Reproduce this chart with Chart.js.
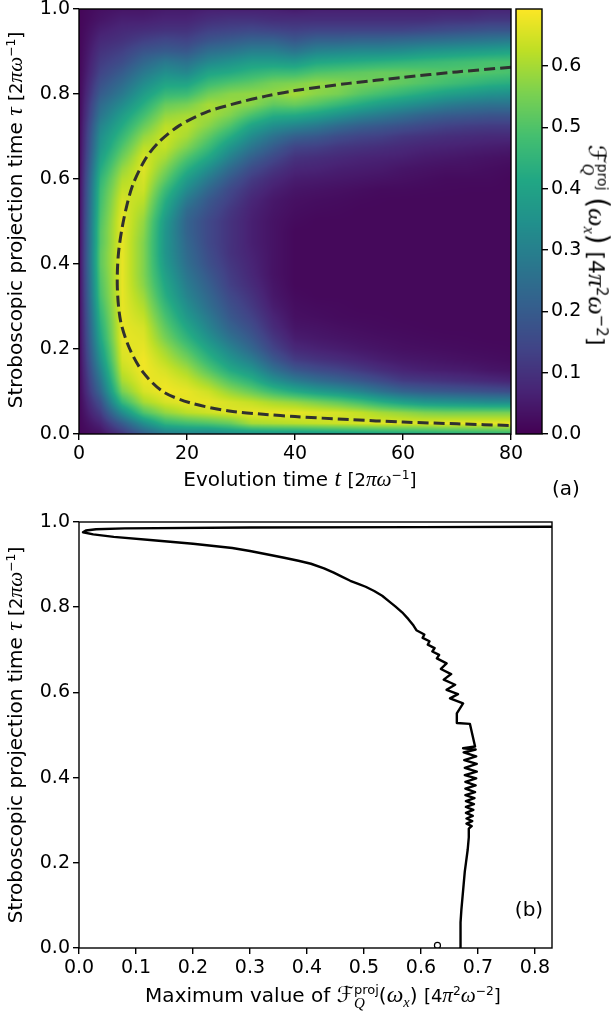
<!DOCTYPE html>
<html><head><meta charset="utf-8">
<script src="https://cdn.jsdelivr.net/npm/chart.js@4.4.1/dist/chart.umd.min.js"></script>
<style>
html,body{margin:0;padding:0;background:#fff;}
#wrap{position:relative;width:614px;height:1017px;overflow:hidden;background:#fff;}
canvas{position:absolute;}
.lbl{position:absolute;font-family:'DejaVu Sans',sans-serif;font-size:20px;color:#000;white-space:nowrap;line-height:1;}
.c{transform:translate(-50%,-50%);}
.rl{transform:translate(-50%,-50%) rotate(-90deg);}
.rr{transform:translate(-50%,-50%) rotate(90deg);}
.mi{font-family:'Liberation Serif','DejaVu Serif',serif;font-style:italic;font-size:1.18em;}
.u{font-size:18px;}
.sp{font-size:0.68em;vertical-align:0.55em;line-height:0;}
.ss{display:inline-flex;flex-direction:column;font-size:13px;line-height:0.95;vertical-align:8px;}
.ss .mi{font-size:15px;}
.sb{font-size:0.72em;vertical-align:-0.3em;line-height:0;}
.scr{font-family:'DejaVu Sans',sans-serif;font-style:italic;font-size:1.1em;}
.big{font-size:1.25em;}
.cbl{font-size:22px;}
.cbl .ss{font-size:14px;vertical-align:9px;}
.cbl .ss .mi{font-size:16px;}
</style></head><body>
<div id="wrap">
<canvas id="ca" width="614" height="500" style="left:0;top:0;width:614px;height:500px"></canvas>
<canvas id="cc" width="124" height="500" style="left:490px;top:0;width:124px;height:500px"></canvas>
<canvas id="cb" width="614" height="517" style="left:0;top:500px;width:614px;height:517px"></canvas>

<div class="lbl rl" style="left:15px;top:220px">Stroboscopic projection time <span class="mi">τ</span> <span class="u">[2<span class="mi">πω</span><span class="sp">−1</span>]</span></div>
<div class="lbl c" style="left:300px;top:479px">Evolution time <span class="mi">t</span> <span class="u">[2<span class="mi">πω</span><span class="sp">−1</span>]</span></div>
<div class="lbl c" style="left:566px;top:488px;font-size:20px">(a)</div>
<div class="lbl rr cbl" style="left:596px;top:245px"><span class="scr">ℱ</span><span class="ss"><span>proj</span><span class="mi">Q</span></span> <span class="big">(</span><span class="mi">ω</span><span class="sb mi">x</span><span class="big">)</span> [4<span class="mi">π</span><span class="sp">2</span><span class="mi">ω</span><span class="sp">−2</span>]</div>

<div class="lbl rl" style="left:15px;top:735px">Stroboscopic projection time <span class="mi">τ</span> <span class="u">[2<span class="mi">πω</span><span class="sp">−1</span>]</span></div>
<div class="lbl c" style="left:323px;top:997px">Maximum value of <span class="scr">ℱ</span><span class="ss"><span>proj</span><span class="mi">Q</span></span>(<span class="mi">ω</span><span class="sb mi">x</span>) <span class="u">[4<span class="mi">π</span><span class="sp">2</span><span class="mi">ω</span><span class="sp">−2</span>]</span></div>
<div class="lbl c" style="left:529px;top:909px;font-size:20px">(b)</div>
</div>
<script>
// ---------------- DATA ----------------
// Panel (a): evolution time columns and projection-time rows of the heat map
const timeValues = [0,4,8,12,16,20,24,28,32,36,40,44,48,52,56,60,64,68,72,76,80];
const tauValues = [0,0.025,0.05,0.075,0.1,0.125,0.15,0.175,0.2,0.225,0.25,0.275,0.3,0.325,0.35,0.375,0.4,0.425,0.45,0.475,0.5,0.525,0.55,0.575,0.6,0.625,0.65,0.675,0.7,0.725,0.75,0.775,0.8,0.825,0.85,0.875,0.9,0.925,0.95,0.975,1.0];
// F_Q^proj values, one row per time column (tau from 0 to 1)
const fisherByTime = [
/* t=0  */ [.01,.01,.01,.01,.01,.01,.01,.01,.01,.01,.01,.01,.01,.01,.01,.01,.01,.01,.01,.01,.01,.01,.01,.01,.01,.01,.01,.01,.01,.01,.01,.01,.01,.01,.01,.01,.01,.01,.01,.01,.01],
/* t=4  */ [.03,.07,.12,.17,.23,.27,.31,.35,.38,.41,.43,.45,.47,.49,.50,.51,.52,.52,.51,.51,.50,.49,.48,.47,.45,.42,.39,.36,.34,.31,.27,.24,.20,.17,.14,.12,.10,.08,.06,.04,.03],
/* t=8  */ [.10,.20,.33,.46,.55,.60,.63,.65,.66,.67,.67,.67,.67,.67,.67,.67,.67,.67,.67,.67,.67,.66,.65,.63,.61,.58,.54,.50,.46,.42,.38,.33,.28,.24,.20,.16,.13,.10,.08,.06,.04],
/* t=12 */ [.20,.34,.50,.60,.65,.67,.68,.68,.67,.66,.65,.63,.61,.59,.57,.56,.56,.56,.56,.57,.58,.60,.62,.64,.65,.66,.65,.62,.58,.53,.48,.43,.38,.33,.28,.23,.18,.13,.09,.06,.04],
/* t=16 */ [.28,.45,.58,.65,.68,.67,.65,.62,.59,.55,.52,.49,.46,.43,.41,.39,.37,.36,.36,.36,.37,.40,.43,.47,.52,.56,.60,.63,.64,.62,.58,.53,.46,.40,.34,.28,.20,.15,.10,.07,.05],
/* t=20 */ [.30,.48,.62,.67,.67,.64,.60,.55,.50,.45,.41,.37,.34,.31,.29,.27,.25,.24,.23,.22,.22,.24,.28,.33,.38,.44,.50,.56,.60,.62,.60,.55,.47,.40,.32,.26,.19,.14,.10,.07,.05],
/* t=24 */ [.30,.50,.64,.67,.64,.58,.51,.45,.40,.35,.31,.28,.25,.23,.21,.19,.17,.16,.15,.15,.15,.17,.19,.23,.28,.34,.41,.47,.52,.57,.60,.60,.54,.47,.40,.32,.25,.18,.13,.09,.06],
/* t=28 */ [.33,.53,.66,.65,.58,.50,.42,.36,.31,.26,.22,.19,.17,.15,.13,.12,.11,.10,.10,.10,.10,.11,.13,.15,.19,.24,.30,.36,.43,.50,.56,.59,.57,.50,.42,.35,.27,.20,.14,.10,.06],
/* t=32 */ [.34,.60,.67,.63,.53,.44,.36,.29,.23,.19,.16,.135,.115,.10,.085,.075,.07,.065,.06,.06,.06,.065,.075,.095,.12,.16,.21,.27,.33,.40,.49,.57,.58,.52,.45,.38,.30,.22,.15,.10,.06],
/* t=36 */ [.35,.61,.67,.60,.47,.35,.26,.19,.14,.11,.085,.07,.055,.045,.04,.035,.035,.035,.035,.035,.035,.04,.045,.06,.08,.11,.15,.20,.26,.34,.43,.52,.58,.55,.47,.38,.30,.22,.14,.09,.06],
/* t=40 */ [.35,.62,.67,.58,.42,.29,.19,.12,.08,.055,.04,.03,.025,.02,.015,.015,.015,.015,.015,.015,.02,.025,.03,.04,.055,.075,.10,.14,.21,.31,.42,.53,.60,.56,.47,.37,.27,.19,.13,.09,.05],
/* t=44 */ [.36,.63,.66,.55,.38,.25,.16,.10,.065,.045,.035,.025,.02,.015,.015,.015,.015,.015,.015,.015,.015,.02,.025,.035,.05,.07,.09,.13,.19,.28,.39,.50,.57,.58,.50,.41,.31,.22,.14,.09,.06],
/* t=48 */ [.37,.64,.65,.52,.35,.22,.14,.085,.055,.038,.028,.02,.018,.015,.015,.015,.015,.015,.015,.015,.015,.018,.022,.03,.045,.06,.08,.11,.16,.24,.35,.46,.55,.57,.51,.42,.32,.22,.14,.09,.06],
/* t=52 */ [.38,.65,.63,.48,.31,.19,.115,.07,.045,.032,.024,.018,.015,.015,.015,.015,.015,.015,.015,.015,.015,.015,.018,.025,.04,.055,.07,.10,.14,.21,.31,.42,.51,.55,.52,.43,.33,.23,.14,.09,.06],
/* t=56 */ [.39,.66,.60,.43,.26,.155,.09,.055,.037,.027,.02,.017,.015,.015,.015,.015,.015,.015,.015,.015,.015,.015,.016,.02,.035,.05,.065,.09,.13,.19,.28,.38,.48,.54,.53,.44,.33,.23,.14,.09,.06],
/* t=60 */ [.40,.66,.58,.39,.22,.12,.07,.045,.03,.023,.018,.015,.015,.015,.015,.015,.015,.015,.015,.015,.015,.015,.015,.02,.03,.04,.06,.08,.11,.17,.25,.35,.45,.52,.53,.45,.34,.24,.14,.09,.06],
/* t=64 */ [.41,.66,.56,.36,.20,.11,.06,.04,.027,.02,.016,.015,.015,.015,.015,.015,.015,.015,.015,.015,.015,.015,.015,.018,.025,.035,.05,.07,.10,.15,.22,.32,.42,.50,.52,.46,.36,.25,.15,.09,.06],
/* t=68 */ [.42,.67,.55,.35,.19,.10,.055,.035,.024,.018,.015,.015,.015,.015,.015,.015,.015,.015,.015,.015,.015,.015,.015,.017,.02,.03,.045,.065,.09,.135,.20,.29,.39,.48,.51,.47,.37,.26,.16,.10,.06],
/* t=72 */ [.43,.67,.55,.34,.18,.09,.05,.03,.021,.017,.015,.015,.015,.015,.015,.015,.015,.015,.015,.015,.015,.015,.015,.016,.02,.03,.04,.06,.085,.125,.19,.27,.37,.46,.51,.48,.38,.27,.17,.10,.06],
/* t=76 */ [.44,.67,.55,.33,.17,.08,.04,.026,.019,.015,.015,.015,.015,.015,.015,.015,.015,.015,.015,.015,.015,.015,.015,.016,.02,.025,.035,.055,.08,.12,.18,.26,.35,.44,.50,.49,.39,.28,.18,.11,.07],
/* t=80 */ [.45,.67,.55,.33,.16,.07,.035,.022,.017,.015,.015,.015,.015,.015,.015,.015,.015,.015,.015,.015,.015,.015,.015,.015,.015,.02,.03,.05,.08,.12,.18,.26,.34,.43,.49,.49,.40,.29,.18,.11,.07]
];
// Dashed ridge line in panel (a)
const ridgeTime = [80,70,60,50,40,34.6,29.6,23.5,18.5,14.8,12.3,9.9,8.3,7.3,7.1,7.7,9.3,11.7,15.4,20.4,27.8,34.6,40,50,60,70,80];
const ridgeTau  = [0.863,0.852,0.839,0.825,0.808,0.795,0.78,0.757,0.725,0.687,0.647,0.584,0.506,0.424,0.344,0.266,0.203,0.148,0.101,0.074,0.054,0.046,0.041,0.034,0.028,0.024,0.020];
// Colour bar
const colorMax = 0.693;
const colorbarTicks = [0,0.1,0.2,0.3,0.4,0.5,0.6];
const timeTicks = [0,20,40,60,80];
const tauTicks = [0,0.2,0.4,0.6,0.8,1.0];
// Panel (b): maximum of F over t for each tau
const maxFisher = [0.669,0.669,0.670,0.671,0.673,0.675,0.677,0.679,0.682,0.684,
 0.684,0.689,0.680,0.690,0.680,0.691,0.679,0.692,0.679,0.693,0.679,0.694,0.678,0.695,0.678,0.696,0.678,0.697,0.677,0.698,0.677,0.698,0.676,0.697,0.675,0.696,0.674,0.695,
 0.686,0.663,0.663,0.674,0.651,0.665,0.645,0.660,0.640,0.653,0.635,0.645,0.628,0.632,0.620,0.624,
 0.612,0.615,0.603,0.606,0.592,0.587,0.578,0.567,0.555,0.543,0.532,0.518,0.503,0.490,0.476,0.462,
 0.447,0.430,0.407,0.385,0.360,0.338,0.300,0.269,0.200,0.130,0.061,0.025,0.007,0.012,0.030,0.080,0.300,0.600,0.900];
const maxTau = [0,0.03,0.06,0.09,0.12,0.15,0.18,0.20,0.23,0.26,
 0.280,0.286,0.292,0.298,0.304,0.310,0.317,0.324,0.331,0.338,0.345,0.352,0.359,0.366,0.374,0.382,0.390,0.398,0.406,0.414,0.423,0.432,0.441,0.450,0.459,0.466,0.469,0.473,
 0.526,0.528,0.551,0.574,0.586,0.596,0.606,0.618,0.630,0.643,0.655,0.668,0.680,0.688,0.696,0.704,
 0.712,0.720,0.728,0.736,0.746,0.757,0.772,0.788,0.802,0.815,0.827,0.838,0.848,0.855,0.862,0.871,
 0.881,0.891,0.902,0.909,0.916,0.922,0.932,0.939,0.949,0.957,0.965,0.971,0.976,0.980,0.983,0.985,0.987,0.988,0.989];
const markerPoint = [{x:0.629, y:0.006}];
const fisherTicks = [0,0.1,0.2,0.3,0.4,0.5,0.6,0.7,0.8];

// ---------------- STYLE HELPERS ----------------
const VIR = [[68,1,84],[72,36,117],[65,68,135],[53,95,141],[42,120,142],[33,145,140],[34,168,132],[68,191,112],[122,209,81],[189,223,38],[253,231,37]];
function viridis(f){
  f = Math.max(0, Math.min(1, f));
  const s = f*10, i = Math.min(9, Math.floor(s)), r = s - i;
  const a = VIR[i], b = VIR[i+1];
  return [a[0]+(b[0]-a[0])*r, a[1]+(b[1]-a[1])*r, a[2]+(b[2]-a[2])*r];
}
function locate(arr, v){
  const n = arr.length-1;
  if (v <= arr[0]) return [0,0];
  if (v >= arr[n]) return [n-1,1];
  let i = 0; while (arr[i+1] < v) i++;
  return [i, (v-arr[i])/(arr[i+1]-arr[i])];
}
Chart.defaults.font.family = "'DejaVu Sans', sans-serif";
Chart.defaults.font.size = 19;
Chart.defaults.color = '#000';

const heatPlugin = {
  id:'heat',
  beforeDatasetsDraw(chart){
    const {ctx, chartArea:a} = chart, xs = chart.scales.x, ys = chart.scales.y;
    const W = Math.round(a.right-a.left), H = Math.round(a.bottom-a.top);
    const off = document.createElement('canvas'); off.width = W; off.height = H;
    const octx = off.getContext('2d'), img = octx.createImageData(W,H);
    const cols = [];
    for (let i=0;i<W;i++) cols.push(locate(timeValues, xs.getValueForPixel(a.left+i+0.5)));
    for (let j=0;j<H;j++){
      const [k,fk] = locate(tauValues, ys.getValueForPixel(a.top+j+0.5));
      for (let i=0;i<W;i++){
        const [c,fc] = cols[i];
        const A = fisherByTime[c], B = fisherByTime[c+1];
        const v = (1-fc)*((1-fk)*A[k]+fk*A[k+1]) + fc*((1-fk)*B[k]+fk*B[k+1]);
        const col = viridis(v/colorMax), p = (j*W+i)*4;
        img.data[p]=col[0]; img.data[p+1]=col[1]; img.data[p+2]=col[2]; img.data[p+3]=255;
      }
    }
    octx.putImageData(img,0,0);
    ctx.drawImage(off, a.left, a.top);
  }
};
const framePlugin = {
  id:'frame',
  afterDatasetsDraw(chart){
    const {ctx, chartArea:a} = chart;
    ctx.save(); ctx.strokeStyle = '#000'; ctx.lineWidth = 1.4;
    ctx.strokeRect(a.left, a.top, a.right-a.left, a.bottom-a.top);
    ctx.restore();
  }
};
const cbPlugin = {
  id:'cbar',
  beforeDatasetsDraw(chart){
    const {ctx, chartArea:a} = chart, ys = chart.scales.y;
    for (let j=Math.floor(a.top); j<Math.ceil(a.bottom); j++){
      const c = viridis(ys.getValueForPixel(j+0.5)/colorMax);
      ctx.fillStyle = `rgb(${c[0]|0},${c[1]|0},${c[2]|0})`;
      ctx.fillRect(a.left, j, a.right-a.left, 1);
    }
  }
};
const gridOpts = {drawOnChartArea:false, drawTicks:true, tickLength:6, color:'#000', lineWidth:1.4};
function xAxis(min,max,ticks,height,fmt){
  return {type:'linear', min, max,
    afterBuildTicks: s => { s.ticks = ticks.map(v => ({value:v})); },
    afterFit: s => { s.height = height; s.paddingLeft = 0; s.paddingRight = 0; },
    grid: gridOpts, border:{display:false},
    ticks:{padding:3, maxRotation:0, autoSkip:false, font:{size:19}, callback: fmt}};
}
function yAxis(min,max,ticks,width,fmt,pos){
  return {type:'linear', min, max, position: pos || 'left',
    afterBuildTicks: s => { s.ticks = ticks.map(v => ({value:v})); },
    afterFit: s => { s.width = width; s.paddingTop = 0; s.paddingBottom = 0; },
    grid: gridOpts, border:{display:false},
    ticks:{padding:3, autoSkip:false, font:{size:19}, callback: fmt}};
}
const common = {responsive:false, animation:false, events:[],
  plugins:{legend:{display:false}, tooltip:{enabled:false}}};

// Panel (a)
new Chart(document.getElementById('ca'), {
  type:'scatter',
  data:{datasets:[{data: ridgeTime.map((t,i)=>({x:t, y:ridgeTau[i]})), showLine:true,
    borderColor:'#303030', borderWidth:3, borderDash:[11,5], pointRadius:0, tension:0.3, fill:false}]},
  options:Object.assign({}, common, {
    layout:{padding:{left:0, top:9, right:103, bottom:0}},
    scales:{
      x: xAxis(0,80,timeTicks,66, v => String(v)),
      y: yAxis(0,1,tauTicks,79, v => v.toFixed(1))
    }}),
  plugins:[heatPlugin, framePlugin]
});
// Colour bar
new Chart(document.getElementById('cc'), {
  type:'scatter',
  data:{datasets:[{data:[]}]},
  options:Object.assign({}, common, {
    layout:{padding:{left:26, top:9, right:0, bottom:66}},
    scales:{
      x:{type:'linear', display:false, min:0, max:1},
      y: yAxis(0,colorMax,colorbarTicks,72, v => v.toFixed(1), 'right')
    }}),
  plugins:[cbPlugin, framePlugin]
});
// Panel (b)
new Chart(document.getElementById('cb'), {
  type:'scatter',
  data:{datasets:[
    {data: maxFisher.map((x,i)=>({x, y:maxTau[i]})), showLine:true, borderColor:'#000', borderWidth:2.4,
     borderJoinStyle:'round', borderCapStyle:'round', pointRadius:0, tension:0, fill:false},
    {data: markerPoint, showLine:false, pointRadius:3, pointBorderWidth:1.2, pointBorderColor:'#000', pointBackgroundColor:'#fff'}
  ]},
  options:Object.assign({}, common, {
    layout:{padding:{left:0, top:22, right:62, bottom:0}},
    scales:{
      x: xAxis(0,0.83,fisherTicks,69, v => v.toFixed(1)),
      y: yAxis(0,1,tauTicks,79, v => v.toFixed(1))
    }}),
  plugins:[framePlugin]
});
</script>
</body></html>
